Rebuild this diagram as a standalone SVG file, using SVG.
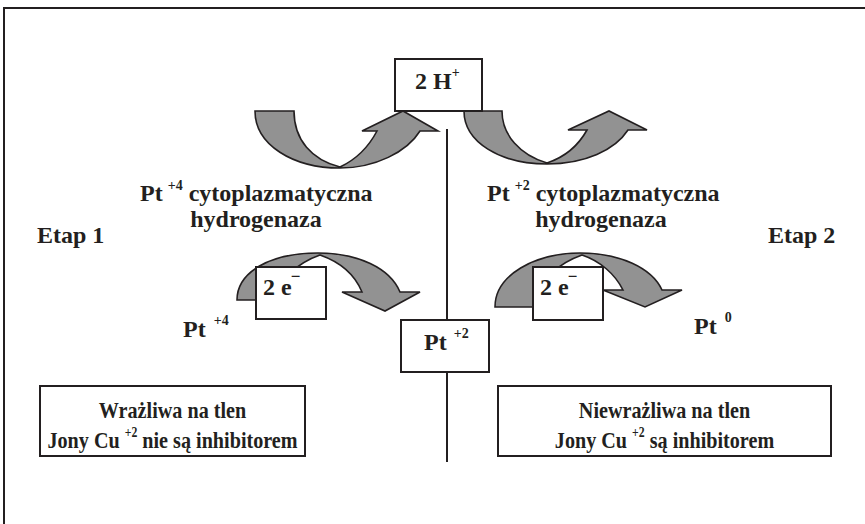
<svg xmlns="http://www.w3.org/2000/svg" width="865" height="524" viewBox="0 0 865 524">
  <style>
    text { font-family: "Liberation Serif", "Times New Roman", serif; font-weight: bold; fill: #231f20; }
    .t24 { font-size: 24px; }
    .sup { font-size: 14px; }
    .box { fill: #ffffff; stroke: #231f20; stroke-width: 2; }
    .arrow { fill: #929292; stroke: #231f20; stroke-width: 1.6; stroke-linejoin: miter; }
    .line { stroke: #231f20; stroke-width: 2; fill: none; }
  </style>

  <!-- page frame (top and left edges) -->
  <path class="line" d="M3,8 H865 M4,7 V524"/>

  <!-- connectors: central divider and curved arrows -->
  <g id="connectors">
    <path class="line" d="M447,129 V320 M447,372 V462"/>
    <!-- upper left: curved up arrow into 2 H+ -->
    <path class="arrow" d="M255,111 C255,145 293,168 340,168 C375,168 407,152 420,131 L438,131 L403,111 L362,131 L377,131 C368,148 355,160 340,167 C312,160 294,140 294,111 Z"/>
    <!-- upper right: curved up arrow out of 2 H+ -->
    <path class="arrow" d="M464,111 C464,142 500,164 547,164 C585,164 615,150 628,130 L647,130 L609,111 L568,130 L587,130 C577,148 562,158 547,163 C520,155 502,135 502,111 Z"/>
    <!-- lower left: curved down arrow -->
    <path class="arrow" d="M237,300 C237,272 270,253 318,253 C358,253 390,268 400,292 L420,292 L385,311 L342,292 L362,292 C355,275 340,262 320,255 C300,262 276,280 276,300 Z"/>
    <!-- lower right: curved down arrow -->
    <path class="arrow" d="M495,307 C495,275 535,253 580,253 C620,253 652,268 662,290 L682,290 L645,307 L603,290 L623,290 C615,274 600,261 582,255 C562,262 535,280 535,307 Z"/>
  </g>

  <g id="node-h2">
    <rect class="box" x="395" y="59" width="87" height="52"/>
    <text class="t24" x="415" y="89">2 H<tspan class="sup" dy="-12">+</tspan></text>
  </g>

  <g id="label-enzyme-1">
    <text class="t24" x="140" y="201">Pt<tspan class="sup" dx="5" dy="-11">+4</tspan><tspan dy="11"> cytoplazmatyczna</tspan></text>
    <text class="t24" x="256" y="227" text-anchor="middle">hydrogenaza</text>
  </g>

  <g id="label-enzyme-2">
    <text class="t24" x="487" y="201">Pt<tspan class="sup" dx="5" dy="-11">+2</tspan><tspan dy="11"> cytoplazmatyczna</tspan></text>
    <text class="t24" x="601" y="227" text-anchor="middle">hydrogenaza</text>
  </g>

  <g id="label-etap-1">
    <text class="t24" x="37" y="243">Etap 1</text>
  </g>
  <g id="label-etap-2">
    <text class="t24" x="768" y="243">Etap 2</text>
  </g>

  <g id="node-e-left">
    <rect class="box" x="256" y="267" width="70" height="52"/>
    <text class="t24" x="263" y="295">2 e<tspan font-size="17" dx="-1" dy="-13">−</tspan></text>
  </g>

  <g id="node-e-right">
    <rect class="box" x="533" y="267" width="70" height="53"/>
    <text class="t24" x="540" y="295">2 e<tspan font-size="17" dx="-1" dy="-13">−</tspan></text>
  </g>

  <g id="label-pt4">
    <text class="t24" x="183" y="337">Pt<tspan class="sup" dx="8" dy="-12">+4</tspan></text>
  </g>

  <g id="node-pt2">
    <rect class="box" x="401" y="320" width="88" height="52"/>
    <text class="t24" x="424" y="350">Pt<tspan class="sup" dx="7" dy="-12">+2</tspan></text>
  </g>

  <g id="label-pt0">
    <text class="t24" x="694" y="334">Pt<tspan class="sup" dx="8" dy="-12">0</tspan></text>
  </g>

  <!-- bottom boxes use a horizontally condensed face -->
  <g id="node-sensitive">
    <rect class="box" x="40" y="386" width="265" height="70"/>
    <g transform="translate(172.5,0) scale(0.84,1)">
      <text class="t24" x="0" y="418" text-anchor="middle">Wrażliwa na tlen</text>
      <text class="t24" x="0" y="448" text-anchor="middle">Jony Cu <tspan class="sup" font-size="16" dy="-11">+2</tspan><tspan dy="11"> nie są inhibitorem</tspan></text>
    </g>
  </g>

  <g id="node-insensitive">
    <rect class="box" x="498" y="386" width="333" height="70"/>
    <g transform="translate(664.5,0) scale(0.84,1)">
      <text class="t24" x="0" y="418" text-anchor="middle">Niewrażliwa na tlen</text>
      <text class="t24" x="0" y="448" text-anchor="middle">Jony Cu <tspan class="sup" font-size="16" dy="-11">+2</tspan><tspan dy="11"> są inhibitorem</tspan></text>
    </g>
  </g>
</svg>
